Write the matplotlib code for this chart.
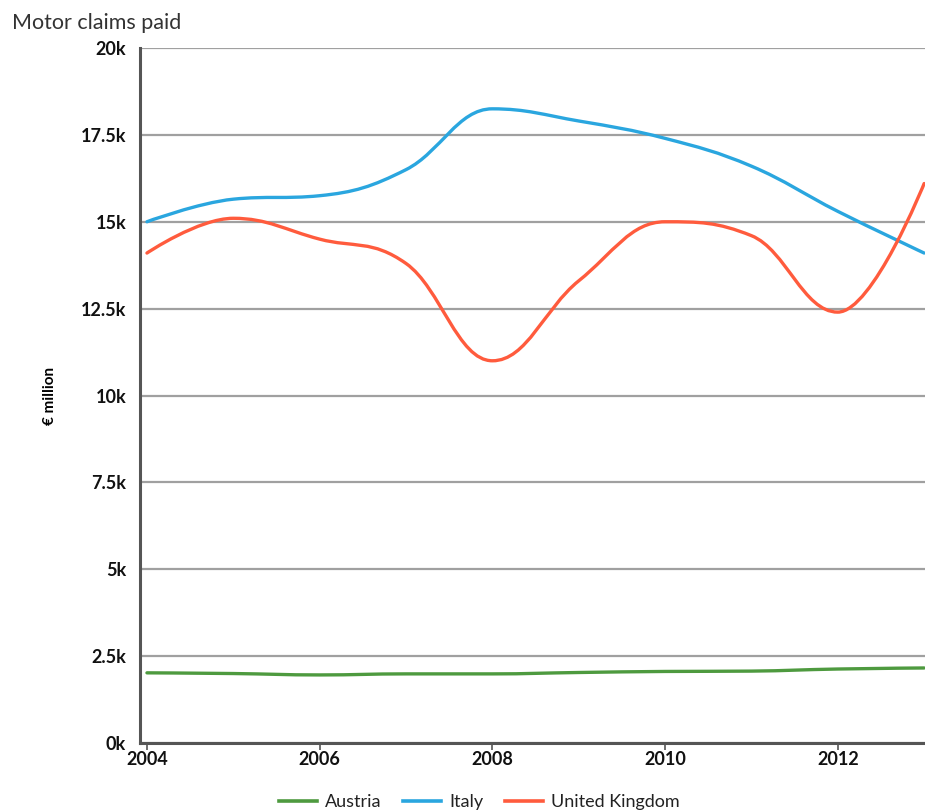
import numpy as np
import matplotlib.pyplot as plt
from matplotlib.path import Path
from matplotlib.patches import PathPatch
from matplotlib.lines import Line2D

years = [2004, 2005, 2006, 2007, 2008, 2009, 2010, 2011, 2012, 2013]
austria = [2020, 2000, 1960, 1990, 1990, 2030, 2060, 2070, 2130, 2160]
italy = [15000, 15650, 15750, 16500, 18250, 17900, 17400, 16600, 15300, 14100]
uk = [14100, 15100, 14500, 13800, 11000, 13300, 15000, 14600, 12400, 16100]

series_names = ['Austria', 'Italy', 'United Kingdom']
series_colors = ['#4e9a3f', '#2aa6df', '#ff5b3d']
yticks = [0, 2500, 5000, 7500, 10000, 12500, 15000, 17500, 20000]
ytick_labels = ['0k', '2.5k', '5k', '7.5k', '10k', '12.5k', '15k', '17.5k', '20k']


def spline_path(xs, ys, smoothing=1.5):
    # bezier control points, same scheme as a highcharts "spline" series
    xs = np.asarray(xs, float)
    ys = np.asarray(ys, float)
    n = len(xs)
    denom = smoothing + 1
    left = [(xs[0], ys[0])]
    right = [(xs[0], ys[0])]
    for i in range(1, n - 1):
        px, py = xs[i], ys[i]
        lx, ly = xs[i - 1], ys[i - 1]
        nx, ny = xs[i + 1], ys[i + 1]
        lcx = (smoothing * px + lx) / denom
        lcy = (smoothing * py + ly) / denom
        rcx = (smoothing * px + nx) / denom
        rcy = (smoothing * py + ny) / denom
        corr = (rcy - lcy) * (rcx - px) / (rcx - lcx) + py - rcy
        lcy += corr
        rcy += corr
        if lcy > max(ly, py):
            lcy = max(ly, py)
            rcy = 2 * py - lcy
        elif lcy < min(ly, py):
            lcy = min(ly, py)
            rcy = 2 * py - lcy
        if rcy > max(ny, py):
            rcy = max(ny, py)
            lcy = 2 * py - rcy
        elif rcy < min(ny, py):
            rcy = min(ny, py)
            lcy = 2 * py - rcy
        left.append((lcx, lcy))
        right.append((rcx, rcy))
    left.append((xs[-1], ys[-1]))
    verts = [(xs[0], ys[0])]
    codes = [Path.MOVETO]
    for i in range(1, n):
        verts += [right[i - 1], left[i], (xs[i], ys[i])]
        codes += [Path.CURVE4] * 3
    return Path(verts, codes)


plt.rcParams['font.family'] = ['Lato', 'DejaVu Sans']

fig = plt.figure(figsize=(9.25, 8.11), dpi=100)
ax = fig.add_axes([0.1514, 0.0838, 0.8486, 0.857])

for vals, color in zip([austria, italy, uk], series_colors):
    ax.add_patch(PathPatch(spline_path(years, vals), facecolor='none',
                           edgecolor=color, lw=2.4, capstyle='round',
                           joinstyle='round', zorder=3))

ax.set_xlim(2003.92, 2013.01)
ax.set_ylim(0, 20000)
ax.set_yticks(yticks)
ax.set_yticklabels(ytick_labels)
ax.set_xticks([2004, 2006, 2008, 2010, 2012])

ax.grid(axis='y', color='#a0a0a0', lw=1.6)
ax.set_axisbelow(True)
for s in ['top', 'right']:
    ax.spines[s].set_visible(False)
for s in ['left', 'bottom']:
    ax.spines[s].set_color('#555555')
    ax.spines[s].set_linewidth(2.2)

ax.tick_params(axis='y', length=0, pad=10, labelsize=13)
ax.tick_params(axis='x', length=5, width=1.2, color='#555555', pad=1, labelsize=13)
for lab in ax.get_xticklabels() + ax.get_yticklabels():
    lab.set_fontweight('bold')
    lab.set_color('#111111')

ax.set_ylabel('€ million', fontsize=11, fontweight='bold')
ax.yaxis.set_label_coords(-0.106, 0.5)

fig.text(0.013, 0.972, 'Motor claims paid', fontsize=15.5, color='#333333',
         ha='left', va='center')

handles = [Line2D([], [], color=c, lw=2.6) for c in series_colors]
fig.legend(handles, series_names, loc='center', bbox_to_anchor=(0.518, 0.011),
           ncol=3, frameon=False, fontsize=13, handlelength=2.1,
           handletextpad=0.45, columnspacing=1.2, labelcolor='#222222')

fig.savefig('out.png', dpi=100)
